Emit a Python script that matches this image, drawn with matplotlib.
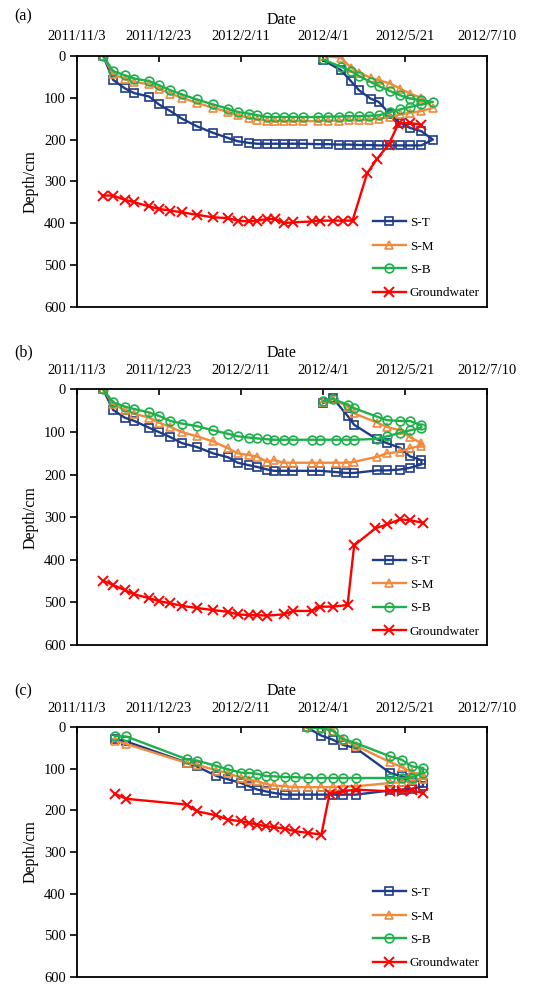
import matplotlib
matplotlib.use('Agg')
import matplotlib.pyplot as plt
from matplotlib.ticker import FuncFormatter
import matplotlib.dates as mdates
import pandas as pd

plt.rcParams['font.family'] = ['Liberation Serif', 'DejaVu Serif']

START = pd.Timestamp('2011-11-03')

# ---- (a) days after 2011/11/3, depth in cm ----
a_day1 = [16, 22, 29, 35, 44, 50, 57, 64, 73, 83, 92, 98, 105, 110, 116,
          121, 126, 132, 138, 147, 153, 160, 166, 172, 178, 184, 191, 197, 203, 210]
a_st1 = [0, 57, 77, 89, 97, 116, 132, 150, 168, 184, 196, 204, 208, 210, 210,
         210, 210, 210, 210, 211, 211, 212, 212, 213, 213, 214, 214, 214, 214, 214]
a_sm1 = [0, 44, 54, 62, 68, 78, 90, 100, 112, 124, 134, 142, 148, 152, 155,
         156, 156, 156, 156, 156, 155, 155, 154, 154, 152, 150, 146, 140, 136, 132]
a_sb1 = [0, 36, 46, 54, 60, 70, 82, 92, 104, 116, 126, 134, 138, 142, 146,
         146, 146, 146, 146, 146, 145, 145, 144, 144, 143, 142, 134, 128, 122, 116]
a_day2 = [150, 161, 167, 172, 179, 184, 191, 197, 203, 210, 217]
a_st2 = [10, 34, 60, 82, 102, 110, 140, 160, 172, 180, 200]
a_sm2 = [0, 4, 28, 40, 52, 58, 66, 78, 90, 100, 124]
a_sb2 = [8, 26, 36, 48, 62, 72, 84, 94, 102, 106, 110]
a_gw_day = [16, 22, 29, 35, 44, 50, 57, 64, 73, 83, 92, 98, 105, 110, 116,
            121, 126, 132, 143, 148, 156, 162, 168, 177, 183, 190, 196, 203, 210]
a_gw = [334, 334, 344, 350, 360, 366, 370, 374, 380, 386, 388, 394, 396, 394, 390,
        390, 400, 398, 396, 394, 394, 394, 394, 280, 246, 212, 162, 160, 165]

# ---- (b) ----
b_day1 = [16, 22, 29, 35, 44, 50, 57, 64, 73, 83, 92, 98, 105, 110, 116,
          120, 126, 132, 143, 148, 158, 164, 169, 183, 189, 197, 203, 210]
b_st1 = [0, 48, 66, 74, 90, 100, 112, 126, 135, 150, 159, 172, 178, 182, 188,
         191, 191, 191, 191, 191, 194, 196, 196, 190, 190, 188, 184, 176]
b_sm1 = [0, 34, 48, 57, 66, 78, 88, 100, 110, 122, 138, 150, 154, 158, 170,
         166, 172, 172, 172, 172, 172, 172, 170, 158, 150, 146, 138, 132]
b_sb1 = [0, 30, 40, 46, 54, 62, 74, 80, 86, 96, 104, 110, 113, 115, 117,
         118, 118, 118, 118, 118, 118, 118, 118, 116, 110, 102, 96, 90]
b_day2 = [150, 156, 165, 169, 183, 189, 197, 203, 210]
b_st2 = [32, 20, 62, 83, 117, 126, 137, 157, 166]
b_sm2 = [30, 22, 40, 56, 78, 88, 96, 112, 126]
b_sb2 = [28, 22, 36, 44, 64, 72, 74, 74, 84]
b_gw_day = [16, 22, 29, 35, 44, 50, 57, 64, 73, 83, 92, 98, 105, 110, 116,
            126, 132, 143, 148, 156, 165, 169, 182, 189, 197, 203, 211]
b_gw = [449, 459, 471, 481, 490, 497, 502, 508, 513, 518, 522, 528, 530, 530, 531,
        528, 520, 520, 510, 510, 506, 366, 326, 317, 305, 307, 313]

# ---- (c) ----
c_day1 = [23, 30, 67, 73, 85, 92, 100, 105, 110, 115, 120, 127, 133, 141, 149,
          156, 162, 170, 191, 198, 204, 211]
c_st1 = [29, 34, 85, 94, 117, 125, 134, 142, 150, 154, 158, 162, 162, 162, 162,
         162, 162, 162, 152, 150, 148, 142]
c_sm1 = [32, 40, 86, 90, 104, 110, 122, 126, 130, 136, 140, 142, 144, 144, 144,
         144, 142, 142, 134, 132, 128, 124]
c_sb1 = [21, 22, 77, 80, 93, 101, 109, 110, 112, 117, 118, 120, 120, 122, 122,
         122, 122, 122, 122, 122, 121, 110]
c_day2 = [140, 149, 156, 162, 170, 191, 198, 204, 211]
c_st2 = [0, 20, 30, 42, 50, 110, 118, 122, 134]
c_sm2 = [0, 2, 8, 30, 44, 84, 96, 108, 114]
c_sb2 = [0, 2, 8, 28, 38, 70, 78, 94, 98]
c_gw_day = [23, 30, 67, 73, 85, 92, 100, 105, 110, 115, 120, 127, 133, 141, 149,
            154, 162, 170, 191, 198, 204, 211]
c_gw = [160, 172, 186, 202, 212, 222, 226, 230, 234, 238, 240, 244, 250, 254, 258,
        160, 154, 150, 154, 154, 152, 158]

names = ['S-T', 'S-M', 'S-B', 'Groundwater']
colors = ['#1F3C88', '#F08A3C', '#1DB04B', '#FF0000']
markers = ['s', '^', 'o', 'x']


def to_dates(days):
    return START + pd.to_timedelta(days, unit='D')


def date_label(x, pos):
    d = mdates.num2date(x)
    return '{}/{}/{}'.format(d.year, d.month, d.day)


def draw_panel(ax, day1, day2, sensors1, sensors2, gw_day, gw):
    for i in range(3):
        # first season forward, second season back from its last reading
        days = list(day1) + list(day2)[::-1]
        depth = list(sensors1[i]) + list(sensors2[i])[::-1]
        ax.plot(to_dates(days), depth, color=colors[i], marker=markers[i],
                mfc='none', ms=6.3, mew=1.2, lw=1.7, label=names[i])
    ax.plot(to_dates(gw_day), gw, color=colors[3], marker=markers[3],
            ms=7, mew=1.4, lw=1.7, label=names[3])

    ax.set_xlim(to_dates([0])[0], to_dates([250])[0])
    ax.set_xticks(pd.date_range(START, periods=6, freq='50D'))
    ax.xaxis.set_major_formatter(FuncFormatter(date_label))
    ax.xaxis.tick_top()
    ax.xaxis.set_label_position('top')
    ax.set_xlabel('Date', fontsize=11.5, labelpad=5)
    ax.set_ylim(600, 0)
    ax.set_yticks(range(0, 601, 100))
    ax.set_ylabel('Depth/cm', fontsize=11.5, labelpad=4)
    ax.tick_params(axis='x', direction='in', length=4, width=1.2,
                   labelsize=10.5, pad=9)
    ax.tick_params(axis='y', direction='out', length=5, width=1.2,
                   labelsize=10.5, pad=3)
    for s in ax.spines.values():
        s.set_linewidth(1.3)
    ax.legend(loc='lower right', frameon=False, fontsize=9.5,
              handlelength=2.5, handletextpad=0.3, labelspacing=0.85,
              borderaxespad=0.15)


fig = plt.figure(figsize=(5.44, 9.84), dpi=100)

panels = [
    ('(a)', [0.1415, 0.6883, 0.7537, 0.2548], 1 - 16 / 984,
     a_day1, a_day2, [a_st1, a_sm1, a_sb1], [a_st2, a_sm2, a_sb2], a_gw_day, a_gw),
    ('(b)', [0.1415, 0.3445, 0.7537, 0.2597], 1 - 352 / 984,
     b_day1, b_day2, [b_st1, b_sm1, b_sb1], [b_st2, b_sm2, b_sb2], b_gw_day, b_gw),
    ('(c)', [0.1415, 0.0074, 0.7537, 0.2535], 1 - 691 / 984,
     c_day1, c_day2, [c_st1, c_sm1, c_sb1], [c_st2, c_sm2, c_sb2], c_gw_day, c_gw),
]

for tag, rect, ty, d1, d2, s1, s2, gd, g in panels:
    ax = fig.add_axes(rect)
    draw_panel(ax, d1, d2, s1, s2, gd, g)
    fig.text(0.026, ty, tag, fontsize=11.5, va='center')

fig.savefig('out.png', dpi=100)
